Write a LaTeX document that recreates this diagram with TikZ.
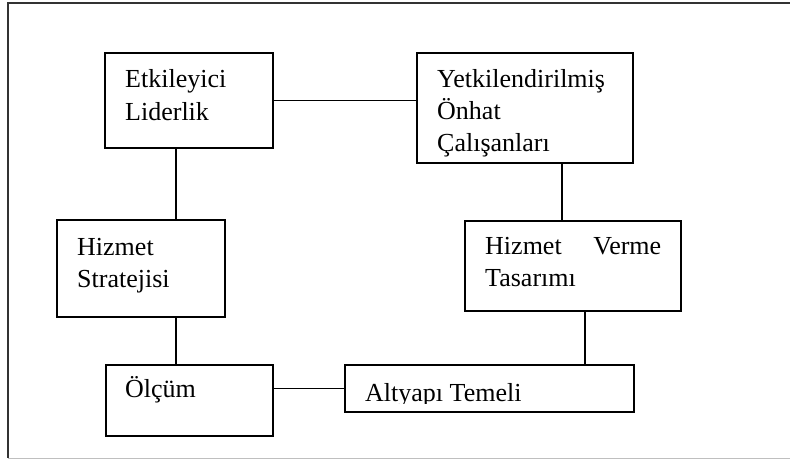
\documentclass[tikz,border=0pt]{standalone}
\usepackage{fontspec}
\setmainfont{Liberation Serif}
\begin{document}
\begin{tikzpicture}[x=1bp,y=-1bp,
  box/.style={draw, line width=1.6bp, inner sep=0pt, anchor=north west},
  txt/.style={anchor=base west, inner sep=0pt, font=\fontsize{26bp}{32bp}\selectfont},
  link/.style={line width=1.3bp}]
\useasboundingbox (0,0) rectangle (790,459);

% outer frame (open on the right)
\draw[line width=1.6bp, black!80] (790,3) -- (8,3) -- (8,458);
\draw[line width=1bp, black!25] (8,458) -- (790,458);

% boxes
\node[box, minimum width=168bp, minimum height=95bp]  (etk) at (104,52)  {};
\node[box, minimum width=216bp, minimum height=110bp] (yet) at (416,52)  {};
\node[box, minimum width=168bp, minimum height=97bp]  (str) at (56,219)  {};
\node[box, minimum width=216bp, minimum height=90bp]  (hvt) at (464,220) {};
\node[box, minimum width=167bp, minimum height=71bp]  (olc) at (105,364) {};
\node[box, minimum width=289bp, minimum height=47bp]  (alt) at (344,364) {};

% texts
\node[txt] (tetk) at (125,88)  {\vtop{\baselineskip=33bp\hbox{Etkileyici}\hbox{Liderlik}}};
\node[txt] (tyet) at (437,88)  {\vtop{\baselineskip=32bp\hbox{Yetkilendirilmiş}\hbox{Önhat}\hbox{Çalışanları}}};
\node[txt] (tstr) at (77,256)  {\vtop{\baselineskip=32bp\hbox{Hizmet}\hbox{Stratejisi}}};
\node[txt] (thvt) at (485,255) {\vtop{\baselineskip=32bp\hbox to 176bp{Hizmet\hfill Verme}\hbox{Tasarımı}}};
\node[txt] (tolc) at (125,397) {Ölçüm};
\begin{scope}
  \clip ([xshift=1bp]alt.north west) rectangle ([yshift=9bp]alt.south east);
  \node[txt] (talt) at (365,401) {Altyapı Temeli};
\end{scope}

% connectors
\coordinate (xl) at (176,0);
\coordinate (xr1) at (562,0);
\coordinate (xr2) at (585,0);
\draw[link] (etk.east) -- (etk.east -| yet.west);
\draw[link] (etk.south -| xl) -- (str.north -| xl);
\draw[link] (str.south -| xl) -- (olc.north -| xl);
\draw[link] (alt.west) -- (alt.west -| olc.east);
\draw[link] (yet.south -| xr1) -- (hvt.north -| xr1);
\draw[link] (hvt.south -| xr2) -- (alt.north -| xr2);
\end{tikzpicture}
\end{document}
